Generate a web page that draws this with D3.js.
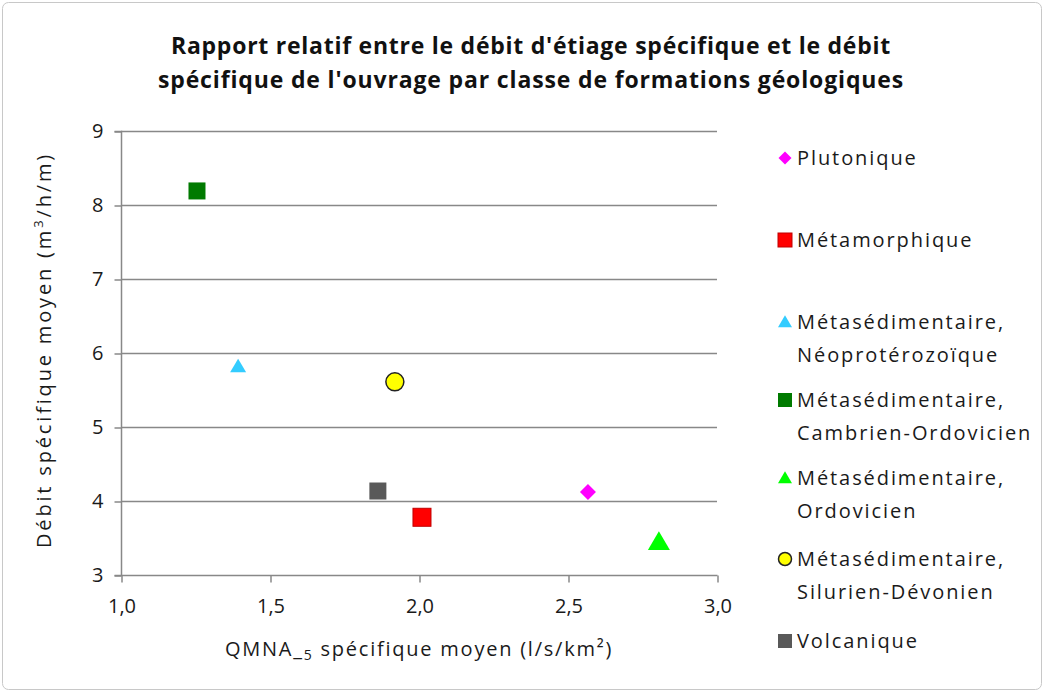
<!DOCTYPE html>
<html><head><meta charset="utf-8">
<script src="https://cdn.jsdelivr.net/npm/d3@7"></script>
<style>
html,body{margin:0;padding:0;background:#fff;}
svg{display:block;}
</style></head>
<body>
<svg id="chart" width="1045" height="693"></svg>
<script>
// ---- data ----
const categories = ["Plutonique","Métamorphique","Métasédimentaire, Néoprotérozoïque","Métasédimentaire, Cambrien-Ordovicien","Métasédimentaire, Ordovicien","Métasédimentaire, Silurien-Dévonien","Volcanique"];
const legendLines = [["Plutonique"],["Métamorphique"],["Métasédimentaire,","Néoprotérozoïque"],["Métasédimentaire,","Cambrien-Ordovicien"],["Métasédimentaire,","Ordovicien"],["Métasédimentaire,","Silurien-Dévonien"],["Volcanique"]];
const qmnaValues = [2.567, 2.01, 1.393, 1.255, 2.805, 1.919, 1.862];
const debitValues = [4.12, 3.78, 5.82, 8.19, 3.45, 5.61, 4.135];
const xTicks = [1.0, 1.5, 2.0, 2.5, 3.0];
const yTicks = [3, 4, 5, 6, 7, 8, 9];

// ---- styles ----
const markerStyle = [
  {shape:"diamond", fill:"#FF00FF", stroke:"none", size:16, lsize:13},
  {shape:"square", fill:"#FF0000", stroke:"#C00000", size:18, lsize:14},
  {shape:"triangle", fill:"#33CCFF", stroke:"none", size:16, lsize:14},
  {shape:"square", fill:"#007A00", stroke:"none", size:17, lsize:14},
  {shape:"triangle", fill:"#00FF00", stroke:"none", size:22, lsize:14},
  {shape:"circle", fill:"#FFFF00", stroke:"#222", size:20, lsize:15},
  {shape:"square", fill:"#595959", stroke:"none", size:17, lsize:14}
];
const font = "'Open Sans', Lato, sans-serif";
const textColor = "#1a1a1a";
const labelSize = 20;

const svg = d3.select("#chart");
svg.append("rect").attr("x",2.5).attr("y",2.5).attr("width",1039).attr("height",687)
  .attr("rx",6).attr("fill","#fff").attr("stroke","#c8c8c8").attr("stroke-width",1);

// spread letters so that a text spans the target width
function fitWidth(sel, target){
  const node = sel.node();
  const n = node.textContent.length;
  const w = node.getComputedTextLength();
  const ls = Math.max(0,(target - w)/n);
  sel.attr("letter-spacing", ls);
  return ls;
}

const pLeft=121, pRight=717, pTop=131, pBottom=575;
const x = d3.scaleLinear().domain([1,3]).range([pLeft,pRight]);
const y = d3.scaleLinear().domain([3,9]).range([pBottom,pTop]);
const axisColor = "#888";

// title
const titleLines = ["Rapport relatif entre le débit d'étiage spécifique et le débit",
                    "spécifique de l'ouvrage par classe de formations géologiques"];
const titleWidths = [720, 746];
titleLines.forEach((t,i)=>{
  const tt = svg.append("text").attr("x",531).attr("y",[54,88][i]).attr("text-anchor","middle")
    .attr("font-family",font).attr("font-weight","bold").attr("font-size",23)
    .attr("fill","#111").text(t);
  fitWidth(tt, titleWidths[i]);
});

// gridlines
svg.append("g").selectAll("line").data(yTicks.filter(d=>d>3)).join("line")
  .attr("x1",pLeft).attr("x2",pRight).attr("y1",d=>Math.round(y(d))+0.5).attr("y2",d=>Math.round(y(d))+0.5)
  .attr("stroke",axisColor).attr("stroke-width",1.5);

// y axis
const yAxis = d3.axisLeft(y).tickValues(yTicks).tickSize(7).tickPadding(11).tickFormat(d3.format("d"));
const gy = svg.append("g").attr("transform",`translate(${pLeft+0.5},0.5)`).call(yAxis);
// x axis
const xAxis = d3.axisBottom(x).tickValues(xTicks).tickSize(7).tickPadding(16).tickFormat(d=>d3.format(".1f")(d).replace(".",","));
const gx = svg.append("g").attr("transform",`translate(0.5,${pBottom+0.5})`).call(xAxis);
[gx,gy].forEach(g=>{
  g.select(".domain").attr("stroke",axisColor).attr("stroke-width",1.5);
  g.selectAll(".tick line").attr("stroke",axisColor).attr("stroke-width",1.5);
  g.selectAll(".tick text").attr("font-family",font).attr("font-size",labelSize).attr("fill",textColor);
});
gy.select(".domain").attr("d",`M-7,${pTop}H0V${pBottom}`);
gx.select(".domain").attr("d",`M${pLeft-7},0H${pRight}`);

// axis titles
const xt = svg.append("text").attr("x",419).attr("y",656).attr("text-anchor","middle")
  .attr("font-family",font).attr("font-size",labelSize).attr("fill",textColor);
xt.append("tspan").text("QMNA_");
xt.append("tspan").attr("font-size",14).attr("dy",4).text("5");
xt.append("tspan").attr("dy",-4).text("  spécifique moyen (l/s/km²)");
fitWidth(xt, 390);

const yt = svg.append("text").attr("transform","translate(51,350) rotate(-90)").attr("text-anchor","middle")
  .attr("font-family",font).attr("font-size",labelSize).attr("fill",textColor);
yt.append("tspan").text("Débit spécifique moyen (m");
yt.append("tspan").attr("font-size",13).attr("dy",-8).text("3");
yt.append("tspan").attr("dy",8).text("/h/m)");
fitWidth(yt, 396);

function drawMarker(g, st, size){
  const h=size/2;
  if(st.shape==="square"){
    g.append("rect").attr("x",-h).attr("y",-h).attr("width",size).attr("height",size)
      .attr("fill",st.fill).attr("stroke",st.stroke);
  } else if(st.shape==="diamond"){
    g.append("path").attr("d",`M0,${-h}L${h},0L0,${h}L${-h},0Z`).attr("fill",st.fill);
  } else if(st.shape==="triangle"){
    g.append("path").attr("d",`M0,${-h*0.95}L${h},${h*0.75}L${-h},${h*0.75}Z`).attr("fill",st.fill);
  } else {
    g.append("circle").attr("r",h-1).attr("fill",st.fill).attr("stroke",st.stroke).attr("stroke-width",1.5);
  }
}

// points
categories.forEach((c,i)=>{
  const g = svg.append("g").attr("transform",`translate(${x(qmnaValues[i])},${y(debitValues[i])})`);
  drawMarker(g, markerStyle[i], markerStyle[i].size);
});

// legend: letter spacing taken from the reference width of "Métasédimentaire,"
const probe = svg.append("text").attr("font-family",font).attr("font-size",labelSize).text("Métasédimentaire,");
const legendLS = fitWidth(probe, 208);
probe.remove();
const legendY = [158,240,322,400,478,559,641];
legendLines.forEach((lines,i)=>{
  const g = svg.append("g").attr("transform",`translate(785,${legendY[i]})`);
  drawMarker(g, markerStyle[i], markerStyle[i].lsize);
  const t = svg.append("text").attr("font-family",font).attr("font-size",labelSize)
    .attr("letter-spacing",legendLS).attr("fill",textColor);
  lines.forEach((l,j)=>{
    t.append("tspan").attr("x",797).attr("y",legendY[i]+7+j*33).text(l);
  });
});
</script>
</body></html>
